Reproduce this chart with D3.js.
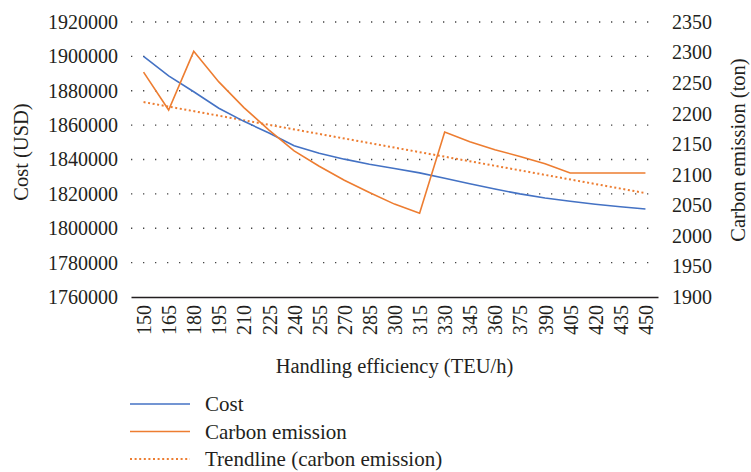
<!DOCTYPE html>
<html>
<head>
<meta charset="utf-8">
<script src="https://cdn.jsdelivr.net/npm/d3@7"></script>
<style>
  body { margin: 0; background: #fff; }
</style>
</head>
<body>
<div id="chart"></div>
<script>
// handling efficiency categories (TEU/h)
var efficiency = ["150", "165", "180", "195", "210", "225", "240", "255", "270", "285", "300",
  "315", "330", "345", "360", "375", "390", "405", "420", "435", "450"];

// cost in USD (left axis)
var cost = [1900000, 1888600, 1879400, 1869800, 1862200, 1855400, 1848000, 1843600, 1840200, 1837200,
  1834800, 1832200, 1829100, 1825900, 1822800, 1820000, 1817600, 1815700, 1814000, 1812500, 1811200];

// carbon emission in ton (right axis)
var carbon = [2268, 2206, 2302, 2252, 2210, 2173, 2139, 2114, 2091, 2071, 2052,
  2037, 2170, 2154, 2141, 2130, 2118, 2103, 2103, 2103, 2103];

// trendline of carbon emission, value at first and last category
var trendCarbon = [2219, 2070];

var costTicks = [1760000, 1780000, 1800000, 1820000, 1840000, 1860000, 1880000, 1900000, 1920000];
var carbonTicks = [1900, 1950, 2000, 2050, 2100, 2150, 2200, 2250, 2300, 2350];

var width = 751, height = 472;
var margin = { top: 22, right: 93, bottom: 175, left: 131 };
var plotW = width - margin.left - margin.right,
  plotH = height - margin.top - margin.bottom;

var blue = "#4472c4", orange = "#ed7d31";
var serif = "'Liberation Serif', 'Times New Roman', 'DejaVu Serif', serif";
var ink = "#231f20";

var svg = d3.select("#chart").append("svg")
  .attr("width", width)
  .attr("height", height)
  .style("font-family", serif);

var g = svg.append("g")
  .attr("transform", "translate(" + margin.left + "," + margin.top + ")");

var x = d3.scalePoint()
  .domain(efficiency)
  .range([0, plotW])
  .padding(0.5);

var yLeft = d3.scaleLinear()
  .domain([1760000, 1920000])
  .range([plotH, 0]);

var yRight = d3.scaleLinear()
  .domain([1900, 2350])
  .range([plotH, 0]);

// dotted gridlines
g.append("g")
  .selectAll("line")
  .data(costTicks.slice(1))
  .enter().append("line")
  .attr("x1", 0)
  .attr("x2", plotW)
  .attr("y1", function (d) { return yLeft(d); })
  .attr("y2", function (d) { return yLeft(d); })
  .style("stroke", "#444")
  .style("stroke-width", 1.3)
  .style("stroke-dasharray", "1.3,10.7");

// left axis
var leftAxis = g.append("g")
  .call(d3.axisLeft(yLeft).tickValues(costTicks).tickSize(0).tickPadding(13).tickFormat(d3.format("d")));
leftAxis.attr("font-family", null).attr("font-size", null);
leftAxis.select(".domain").remove();

// right axis
var rightAxis = g.append("g")
  .attr("transform", "translate(" + plotW + ",0)")
  .call(d3.axisRight(yRight).tickValues(carbonTicks).tickSize(0).tickPadding(14).tickFormat(d3.format("d")));
rightAxis.attr("font-family", null).attr("font-size", null);
rightAxis.select(".domain").remove();

// bottom axis
var bottomAxis = g.append("g")
  .attr("transform", "translate(0," + plotH + ")")
  .call(d3.axisBottom(x).tickSize(0).tickSizeOuter(0));
bottomAxis.attr("font-family", null).attr("font-size", null);
bottomAxis.select(".domain")
  .style("stroke", ink)
  .style("stroke-width", 1.5);
bottomAxis.selectAll("text")
  .attr("transform", "rotate(-90)")
  .attr("text-anchor", "end")
  .attr("x", -8)
  .attr("y", 0)
  .attr("dy", "0.35em");

svg.selectAll(".tick text")
  .style("font-family", serif)
  .style("font-size", "20px")
  .style("fill", ink);

// lines
var costLine = d3.line()
  .x(function (d, i) { return x(efficiency[i]); })
  .y(function (d) { return yLeft(d); });

var carbonLine = d3.line()
  .x(function (d, i) { return x(efficiency[i]); })
  .y(function (d) { return yRight(d); });

g.append("path")
  .datum(trendCarbon)
  .attr("d", d3.line()
    .x(function (d, i) { return x(efficiency[i * (efficiency.length - 1)]); })
    .y(function (d) { return yRight(d); }))
  .style("fill", "none")
  .style("stroke", orange)
  .style("stroke-width", 2)
  .style("stroke-dasharray", "2,2.6");

g.append("path")
  .datum(cost)
  .attr("d", costLine)
  .style("fill", "none")
  .style("stroke", blue)
  .style("stroke-width", 1.6);

g.append("path")
  .datum(carbon)
  .attr("d", carbonLine)
  .style("fill", "none")
  .style("stroke", orange)
  .style("stroke-width", 1.6);

// axis titles
svg.append("text")
  .attr("transform", "translate(28,152) rotate(-90)")
  .attr("text-anchor", "middle")
  .style("font-family", serif)
  .style("font-size", "20.5px")
  .style("fill", ink)
  .text("Cost (USD)");

svg.append("text")
  .attr("transform", "translate(745,150) rotate(-90)")
  .attr("text-anchor", "middle")
  .style("font-family", serif)
  .style("font-size", "20.5px")
  .style("fill", ink)
  .text("Carbon emission (ton)");

svg.append("text")
  .attr("x", margin.left + plotW / 2)
  .attr("y", 373)
  .attr("text-anchor", "middle")
  .style("font-family", serif)
  .style("font-size", "20.5px")
  .style("fill", ink)
  .text("Handling efficiency (TEU/h)");

// legend
var legendItems = [
  { name: "Cost", color: blue, dash: null },
  { name: "Carbon emission", color: orange, dash: null },
  { name: "Trendline (carbon emission)", color: orange, dash: "2,2.6" }
];

var legend = svg.append("g")
  .selectAll("g")
  .data(legendItems)
  .enter().append("g")
  .attr("transform", function (d, i) { return "translate(130," + (404 + i * 27.5) + ")"; });

legend.append("line")
  .attr("x1", 0)
  .attr("x2", 60)
  .style("stroke", function (d) { return d.color; })
  .style("stroke-width", function (d) { return d.dash ? 2 : 1.6; })
  .style("stroke-dasharray", function (d) { return d.dash; });

legend.append("text")
  .attr("x", 75)
  .attr("dy", "0.35em")
  .style("font-family", serif)
  .style("font-size", "21px")
  .style("fill", ink)
  .text(function (d) { return d.name; });
</script>
</body>
</html>
